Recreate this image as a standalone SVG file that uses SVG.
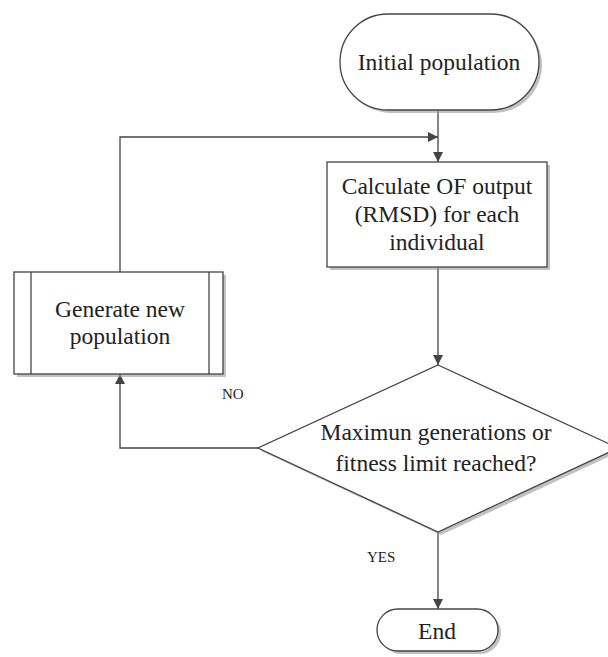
<svg xmlns="http://www.w3.org/2000/svg" width="608" height="657" viewBox="0 0 608 657">
<defs>
<style>
.s{fill:#fff;stroke:#444;stroke-width:1.3}
.sh{fill:#999;stroke:none;opacity:0.6}
.t{font-family:"Liberation Serif","Times New Roman",serif;font-size:23.5px;fill:#222;text-anchor:middle}
.lb{font-family:"Liberation Serif","Times New Roman",serif;font-size:15px;fill:#222}
.c{fill:none;stroke:#444;stroke-width:1.3}
</style>
<marker id="ah" viewBox="0 0 10 10" refX="10" refY="5" markerWidth="10" markerHeight="10" markerUnits="userSpaceOnUse" orient="auto">
<path d="M0,0 L10,5 L0,10 Z" fill="#444"/>
</marker>
</defs>
<rect width="608" height="657" fill="#fff"/>
<g id="connectors">
<line class="c" x1="438" y1="111" x2="438" y2="162" marker-end="url(#ah)"/>
<polyline class="c" points="120,272 120,137 438,137" marker-end="url(#ah)"/>
<line class="c" x1="438" y1="267" x2="438" y2="365" marker-end="url(#ah)"/>
<polyline class="c" points="258,448 120,448 120,374" marker-end="url(#ah)"/>
<line class="c" x1="438" y1="532" x2="438" y2="609" marker-end="url(#ah)"/>
<text class="lb" x="222" y="399">NO</text>
<text class="lb" x="367" y="562">YES</text>
</g>
<g id="initial">
<rect class="sh" x="343" y="17" width="199" height="96" rx="48"/>
<rect class="s" x="340" y="14" width="199" height="96" rx="48"/>
<text class="t" x="439" y="70">Initial population</text>
</g>
<g id="calculate">
<rect class="sh" x="330" y="165" width="220" height="105"/>
<rect class="s" x="327" y="162" width="220" height="105"/>
<text class="t" x="437" y="194">Calculate OF output</text>
<text class="t" x="437" y="222">(RMSD) for each</text>
<text class="t" x="437" y="250">individual</text>
</g>
<g id="generate">
<rect class="sh" x="17" y="275" width="209" height="102"/>
<rect class="s" x="14" y="272" width="209" height="102"/>
<line class="c" x1="31" y1="272" x2="31" y2="374"/>
<line class="c" x1="209" y1="272" x2="209" y2="374"/>
<text class="t" x="120" y="317">Generate new</text>
<text class="t" x="120" y="344">population</text>
</g>
<g id="decision">
<polygon class="sh" points="441,368 621,451 441,535 261,451"/>
<polygon class="s" points="438,365 618,448 438,532 258,448"/>
<text class="t" x="436" y="440">Maximun generations or</text>
<text class="t" x="436" y="471">fitness limit reached?</text>
</g>
<g id="end">
<rect class="sh" x="380" y="612" width="121" height="42" rx="21"/>
<rect class="s" x="377" y="609" width="121" height="42" rx="21"/>
<text class="t" x="437" y="639">End</text>
</g>
</svg>
